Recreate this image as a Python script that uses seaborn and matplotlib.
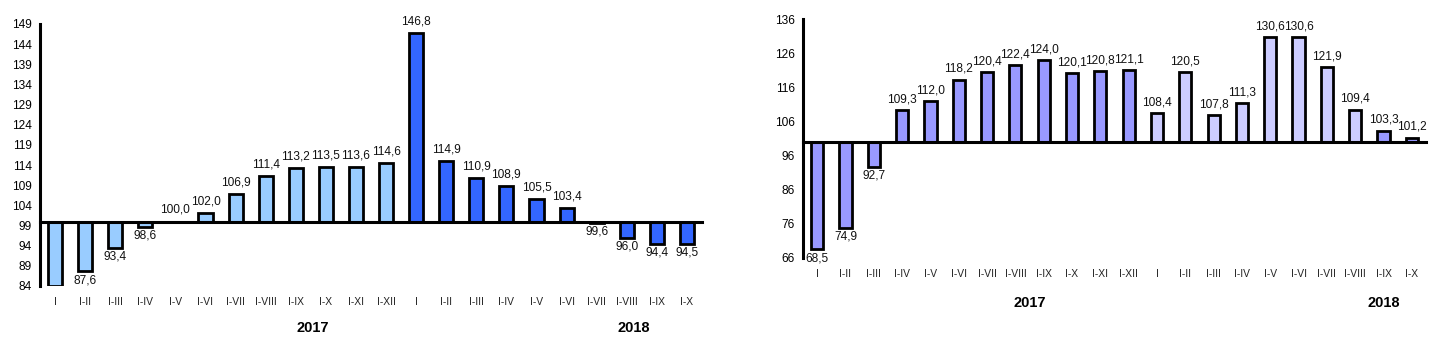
import numpy as np
import pandas as pd
import seaborn as sns
import matplotlib
matplotlib.use("Agg")
import matplotlib.pyplot as plt
from matplotlib.transforms import blended_transform_factory

# ---------------- data ----------------
periods = ["I", "I-II", "I-III", "I-IV", "I-V", "I-VI", "I-VII", "I-VIII", "I-IX", "I-X", "I-XI", "I-XII",
           "I", "I-II", "I-III", "I-IV", "I-V", "I-VI", "I-VII", "I-VIII", "I-IX", "I-X"]
years = ["2017"] * 12 + ["2018"] * 10

left_values = [84.0, 87.6, 93.4, 98.6, 100.0, 102.0, 106.9, 111.4, 113.2, 113.5, 113.6, 114.6,
               146.8, 114.9, 110.9, 108.9, 105.5, 103.4, 99.6, 96.0, 94.4, 94.5]
right_values = [68.5, 74.9, 92.7, 109.3, 112.0, 118.2, 120.4, 122.4, 124.0, 120.1, 120.8, 121.1,
                108.4, 120.5, 107.8, 111.3, 130.6, 130.6, 121.9, 109.4, 103.3, 101.2]

left_yticks = [84, 89, 94, 99, 104, 109, 114, 119, 124, 129, 134, 139, 144, 149]
right_yticks = [66, 76, 86, 96, 106, 116, 126, 136]
base = 100.0

left_colors = ["#99CCFF"] * 12 + ["#3366FF"] * 10
right_colors = ["#9999FF"] * 12 + ["#CCCCFF"] * 8 + ["#9999FF"] * 2

# ---------------- figure ----------------
sns.set_theme(style="white")
plt.rcParams["font.family"] = ["Liberation Sans", "DejaVu Sans"]

W, H = 1434, 353
fig = plt.figure(figsize=(W / 100, H / 100), dpi=100)


def fx(px):
    return px / W


def fy(py):
    return 1 - py / H


def draw(ax_box, values, colors, yticks, bar_w, cat_y, year_pos, year_y, up_off):
    x0, x1, ytop, ybot = ax_box
    ax = fig.add_axes([fx(x0), fy(ybot), fx(x1) - fx(x0), fy(ytop) - fy(ybot)])
    keys = [f"{y}-{p}" for y, p in zip(years, periods)]
    df = pd.DataFrame({"key": keys, "value": values})
    df["height"] = df["value"] - base
    pal = dict(zip(keys, colors))
    sns.barplot(data=df, x="key", y="height", hue="key", palette=pal, order=keys,
                hue_order=keys, dodge=False, legend=False, width=bar_w, bottom=base,
                edgecolor="black", linewidth=2.0, saturation=1, ax=ax)
    ax.set_ylim(yticks[0], yticks[-1])
    ax.set_xlim(-0.5, len(keys) - 0.5)
    ax.set_yticks(yticks)
    ax.set_yticklabels([str(t) for t in yticks], fontsize=8.6, color="#000000")
    ax.tick_params(axis="y", direction="out", length=4, width=2, color="black", pad=2)
    ax.set_xticks(np.arange(-0.5, len(keys), 1.0))
    ax.set_xticklabels([])
    ax.tick_params(axis="x", direction="out", length=4, width=1.6, color="black")
    ax.set_xlabel("")
    ax.set_ylabel("")
    for s in ["top", "right"]:
        ax.spines[s].set_visible(False)
    ax.spines["left"].set_linewidth(2.2)
    ax.spines["left"].set_color("black")
    ax.spines["bottom"].set_position(("data", base))
    ax.spines["bottom"].set_linewidth(2.2)
    ax.spines["bottom"].set_color("black")
    ax.patch.set_alpha(0)
    ax.grid(False)

    # value labels
    for i, v in enumerate(values):
        if v <= yticks[0]:
            continue
        txt = f"{v:.1f}".replace(".", ",")
        if v >= base:
            ax.annotate(txt, (i, v), xytext=(0, up_off), textcoords="offset points",
                        ha="center", va="bottom", fontsize=8.6, color="#111111")
        else:
            ax.annotate(txt, (i, v), xytext=(0, -2), textcoords="offset points",
                        ha="center", va="top", fontsize=8.6, color="#111111")

    tr = blended_transform_factory(ax.transData, fig.transFigure)
    for i, p in enumerate(periods):
        ax.text(i, fy(cat_y), p, transform=tr, ha="center", va="center",
                fontsize=7.4, color="#222222")
    for yr, xp in zip(["2017", "2018"], year_pos):
        ax.text(xp, fy(year_y), yr, transform=tr, ha="center", va="center",
                fontsize=10.5, fontweight="bold", color="black")
    return ax


draw((40, 702, 24, 286), left_values, left_colors, left_yticks, 0.47, 302, (8.57, 19.23), 328, 4)
draw((803, 1426, 19, 258), right_values, right_colors, right_yticks, 0.43, 274, (7.52, 20.0), 303, 3.5)

fig.savefig("out.png", dpi=100)
